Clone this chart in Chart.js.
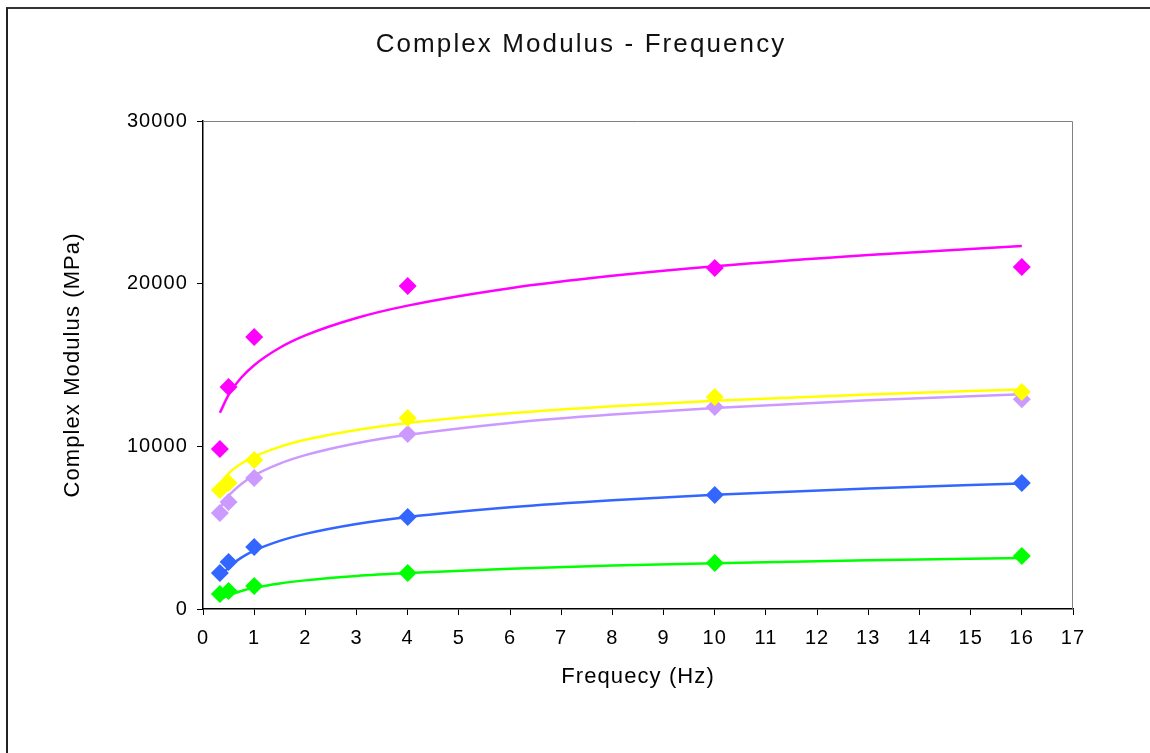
<!DOCTYPE html>
<html>
<head>
<meta charset="utf-8">
<script src="https://cdn.jsdelivr.net/npm/chart.js@4.4.0/dist/chart.umd.min.js"></script>
<style>
  html, body { margin: 0; padding: 0; background: #fff; overflow: hidden; }
  #frame { position: absolute; left: 6px; top: 7px; width: 1300px; height: 900px;
           border-left: 2px solid #222; border-top: 2px solid #333; }
  #chart { position: absolute; left: 0; top: 0; }
</style>
</head>
<body>
<div id="frame"></div>
<canvas id="chart" width="1150" height="753"></canvas>
<script>
// measured frequencies (Hz)
const frequency = [0.33, 0.5, 1, 4, 10, 16];

// complex modulus (MPa)
const magentaValues = [9830, 13640, 16720, 19850, 20960, 21020];
const yellowValues = [7310, 7740, 9160, 11740, 13030, 13340];
const lavenderValues = [5900, 6580, 8050, 10760, 12420, 12900];
const blueValues = [2210, 2890, 3810, 5650, 7010, 7740];
const greenValues = [920, 1100, 1410, 2210, 2830, 3260];

// trendline curves at these frequencies
const trendX = [0.33, 0.5, 0.75, 1, 1.5, 2, 3, 4, 6, 8, 10, 13, 16];
const magentaTrend = [12060, 13160, 14230, 14990, 16060, 16820, 17890, 18650, 19720, 20480, 21070, 21760, 22310];
const yellowTrend = [7720, 8340, 8940, 9370, 9970, 10400, 11010, 11440, 12040, 12470, 12800, 13190, 13500];
const lavenderTrend = [6210, 6960, 7690, 8210, 8940, 9460, 10190, 10710, 11440, 11950, 12350, 12830, 13200];
const blueTrend = [1940, 2560, 3160, 3590, 4190, 4620, 5230, 5660, 6260, 6690, 7020, 7410, 7720];
const greenTrend = [570, 840, 1110, 1300, 1570, 1760, 2030, 2210, 2480, 2670, 2820, 2990, 3130];

const xTicks = [0, 1, 2, 3, 4, 5, 6, 7, 8, 9, 10, 11, 12, 13, 14, 15, 16, 17];
const yTicks = [0, 10000, 20000, 30000];

const chartTitle = 'Complex Modulus - Frequency';

const series = [
  { name: 'Series 1', color: '#FF00FF', values: magentaValues, trend: magentaTrend },
  { name: 'Series 2', color: '#FFFF00', values: yellowValues, trend: yellowTrend },
  { name: 'Series 3', color: '#CC99FF', values: lavenderValues, trend: lavenderTrend },
  { name: 'Series 4', color: '#3366FF', values: blueValues, trend: blueTrend },
  { name: 'Series 5', color: '#00FF00', values: greenValues, trend: greenTrend }
];

const datasets = [];
series.forEach(function (s) {
  datasets.push({
    label: s.name + ' trend',
    data: trendX.map(function (x, i) { return { x: x, y: s.trend[i] }; }),
    showLine: true,
    borderColor: s.color,
    borderWidth: 2.5,
    pointRadius: 0,
    cubicInterpolationMode: 'monotone',
    order: 2
  });
  datasets.push({
    label: s.name,
    data: frequency.map(function (x, i) { return { x: x, y: s.values[i] }; }),
    showLine: false,
    pointStyle: 'rectRot',
    pointRadius: 9,
    pointBackgroundColor: s.color,
    pointBorderWidth: 0,
    order: 1
  });
});

const FONT = '"Liberation Sans", Arial, sans-serif';

// wide letter spacing like the original, plus the title text
const textStyle = {
  id: 'textStyle',
  beforeDraw: function (chart) {
    chart.ctx.letterSpacing = '1.1px';
  },
  afterDraw: function (chart) {
    const ctx = chart.ctx;
    ctx.save();
    ctx.letterSpacing = '2.1px';
    ctx.font = '26px ' + FONT;
    ctx.fillStyle = '#111';
    ctx.textAlign = 'center';
    ctx.textBaseline = 'middle';
    ctx.fillText(chartTitle, 581, 45);
    ctx.restore();
  }
};

// grey top/right edge of the plot area
const plotFrame = {
  id: 'plotFrame',
  afterDatasetsDraw: function (chart) {
    const a = chart.chartArea;
    const ctx = chart.ctx;
    ctx.save();
    ctx.strokeStyle = '#808080';
    ctx.lineWidth = 1;
    ctx.beginPath();
    ctx.moveTo(a.left, a.top + 0.5);
    ctx.lineTo(a.right - 0.5, a.top + 0.5);
    ctx.lineTo(a.right - 0.5, a.bottom);
    ctx.stroke();
    ctx.restore();
  }
};

Chart.defaults.font.family = FONT;
Chart.defaults.color = '#000';

new Chart(document.getElementById('chart'), {
  type: 'scatter',
  data: { datasets: datasets },
  options: {
    responsive: false,
    animation: false,
    layout: { padding: { left: 0, right: 77, top: 121, bottom: 0 } },
    plugins: {
      legend: { display: false },
      tooltip: { enabled: false },
      title: { display: false }
    },
    scales: {
      x: {
        type: 'linear',
        min: 0,
        max: 17,
        afterBuildTicks: function (scale) { scale.ticks = xTicks.map(function (v) { return { value: v }; }); },
        afterFit: function (scale) { scale.height = 144; },
        ticks: { font: { size: 20 }, padding: 11, maxRotation: 0 },
        grid: { drawOnChartArea: false, drawTicks: true, tickLength: 6, color: '#000' },
        border: { color: '#000', width: 1.5 },
        title: {
          display: true,
          text: 'Frequecy (Hz)',
          font: { size: 22 },
          padding: { top: 0, bottom: 63 }
        }
      },
      y: {
        min: 0,
        max: 30000,
        afterBuildTicks: function (scale) { scale.ticks = yTicks.map(function (v) { return { value: v }; }); },
        afterFit: function (scale) { scale.width = 203; },
        ticks: { font: { size: 20 }, padding: 9, callback: function (v) { return String(v); } },
        grid: { drawOnChartArea: false, drawTicks: true, tickLength: 6, color: '#000' },
        border: { color: '#000', width: 1.5 },
        title: {
          display: true,
          text: 'Complex Modulus (MPa)',
          font: { size: 22 },
          padding: { top: 60, bottom: 0 }
        }
      }
    }
  },
  plugins: [textStyle, plotFrame]
});
</script>
</body>
</html>
